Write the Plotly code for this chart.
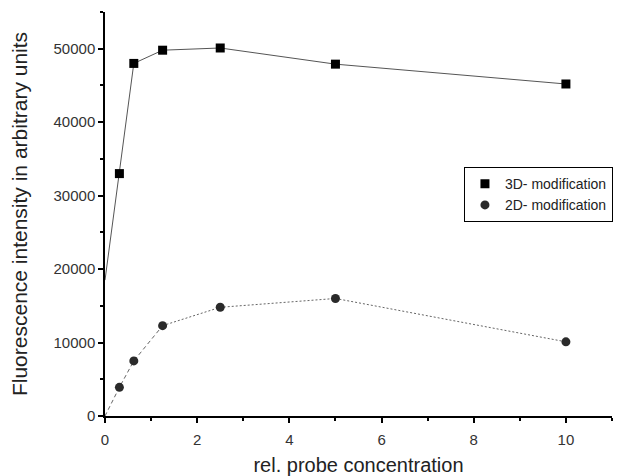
import plotly.graph_objects as go

# Relative probe concentration and fluorescence readings
conc = [0.3125, 0.625, 1.25, 2.5, 5, 10]
mod3d = [33000, 48000, 49800, 50100, 47900, 45200]
mod2d = [3900, 7500, 12300, 14800, 16000, 10100]
# intercepts of the connecting lines at zero concentration
start3d = 18500
start2d = 0

fig = go.Figure()

# 3D modification: solid connecting line from the intercept
fig.add_trace(go.Scatter(x=[0] + conc, y=[start3d] + mod3d, mode="lines",
                         line=dict(color="#555555", width=1), showlegend=False,
                         hoverinfo="skip"))
# 2D modification: dashed at low concentration, dotted beyond
fig.add_trace(go.Scatter(x=[0] + conc[:3], y=[start2d] + mod2d[:3], mode="lines",
                         line=dict(color="#666666", width=1, dash="4px,3px"),
                         showlegend=False, hoverinfo="skip"))
fig.add_trace(go.Scatter(x=conc[2:], y=mod2d[2:], mode="lines",
                         line=dict(color="#666666", width=1, dash="2px,2px"),
                         showlegend=False, hoverinfo="skip"))

fig.add_trace(go.Scatter(x=conc, y=mod3d, mode="markers", name="3D- modification",
                         marker=dict(symbol="square", size=9, color="#000000")))
fig.add_trace(go.Scatter(x=conc, y=mod2d, mode="markers", name="2D- modification",
                         marker=dict(symbol="circle", size=9, color="#2a2a2a")))

axis_common = dict(showgrid=False, zeroline=False, showline=True, linecolor="#000000",
                   linewidth=1.5, ticks="outside", ticklen=5, tickwidth=1.5,
                   tickcolor="#000000", tickfont=dict(size=15, color="#333333"),
                   tickformat="d", automargin=False,
                   minor=dict(ticks="outside", ticklen=3, tickwidth=1.5,
                              tickcolor="#000000"))

fig.update_xaxes(range=[0, 11], tick0=0, dtick=2, **axis_common,
                 ticklabelstandoff=4,
                 title=dict(text="rel. probe concentration",
                            font=dict(size=20, color="#222222"), standoff=12))
fig.update_xaxes(minor=dict(dtick=1))
fig.update_yaxes(range=[0, 55000], tick0=0, dtick=10000, **axis_common,
                 title=dict(text="Fluorescence intensity in arbitrary units",
                            font=dict(size=21, color="#222222"), standoff=20))
fig.update_yaxes(minor=dict(dtick=5000))

fig.update_layout(
    width=631, height=476,
    margin=dict(l=105, r=19, t=12, b=60),
    paper_bgcolor="white", plot_bgcolor="white",
    font=dict(family="Liberation Sans, Arial, sans-serif"),
    legend=dict(x=0.708, y=0.616, xanchor="left", yanchor="top",
                bordercolor="#000000", borderwidth=1, bgcolor="white",
                font=dict(size=14, color="#222222"), tracegroupgap=0,
                itemwidth=30, entrywidth=135, entrywidthmode="pixels"),
)

fig.write_html("out.html")
